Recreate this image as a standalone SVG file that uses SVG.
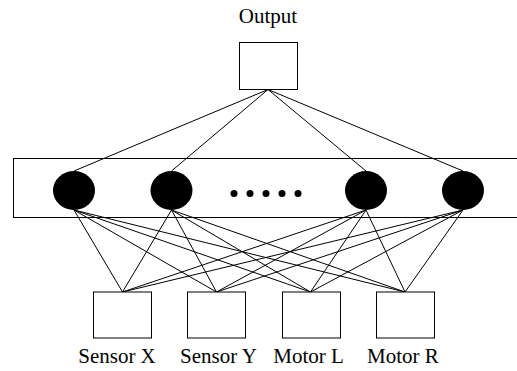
<svg xmlns="http://www.w3.org/2000/svg" width="517" height="371" viewBox="0 0 517 371">
<style>
.box{fill:#fff;stroke:#000;stroke-width:1}
.n{fill:#000}
.lbl{font-family:"Liberation Serif","Times New Roman",serif;font-size:21px;fill:#000;text-anchor:middle}
.c line{stroke:#000;stroke-width:1}
</style>
<g id="layer">
<rect class="box" x="13.5" y="158.5" width="504" height="59"/>
</g>
<g class="c" id="connectors">
<line x1="268" y1="89.5" x2="74" y2="171"/>
<line x1="268" y1="89.5" x2="171.5" y2="171"/>
<line x1="268" y1="89.5" x2="366" y2="171"/>
<line x1="268" y1="89.5" x2="463" y2="171"/>
<line x1="74" y1="210" x2="122.5" y2="292"/>
<line x1="74" y1="210" x2="216.5" y2="292"/>
<line x1="74" y1="210" x2="310.5" y2="292"/>
<line x1="74" y1="210" x2="405" y2="292"/>
<line x1="171.5" y1="210" x2="122.5" y2="292"/>
<line x1="171.5" y1="210" x2="216.5" y2="292"/>
<line x1="171.5" y1="210" x2="310.5" y2="292"/>
<line x1="171.5" y1="210" x2="405" y2="292"/>
<line x1="366" y1="210" x2="122.5" y2="292"/>
<line x1="366" y1="210" x2="216.5" y2="292"/>
<line x1="366" y1="210" x2="310.5" y2="292"/>
<line x1="366" y1="210" x2="405" y2="292"/>
<line x1="463" y1="210" x2="122.5" y2="292"/>
<line x1="463" y1="210" x2="216.5" y2="292"/>
<line x1="463" y1="210" x2="310.5" y2="292"/>
<line x1="463" y1="210" x2="405" y2="292"/>
</g>
<g id="output">
<rect class="box" x="239.5" y="42.5" width="58" height="47"/>
<text class="lbl" x="268" y="23">Output</text>
</g>
<g id="h1"><ellipse class="n" cx="74" cy="190.5" rx="21" ry="19.5"/></g>
<g id="h2"><ellipse class="n" cx="171.5" cy="190.5" rx="21" ry="19.5"/></g>
<g id="dots">
<circle class="n" cx="234" cy="193.5" r="3.5"/>
<circle class="n" cx="250" cy="193.5" r="3.5"/>
<circle class="n" cx="266" cy="193.5" r="3.5"/>
<circle class="n" cx="282" cy="193.5" r="3.5"/>
<circle class="n" cx="298" cy="193.5" r="3.5"/>
</g>
<g id="h3"><ellipse class="n" cx="366" cy="190.5" rx="21" ry="19.5"/></g>
<g id="h4"><ellipse class="n" cx="463" cy="190.5" rx="21" ry="19.5"/></g>
<g id="sensorX">
<rect class="box" x="93.5" y="292" width="58" height="46"/>
<text class="lbl" x="117" y="363">Sensor X</text>
</g>
<g id="sensorY">
<rect class="box" x="187.5" y="292" width="58" height="46"/>
<text class="lbl" x="218.5" y="363">Sensor Y</text>
</g>
<g id="motorL">
<rect class="box" x="282.5" y="292" width="58" height="46"/>
<text class="lbl" x="308.5" y="363">Motor L</text>
</g>
<g id="motorR">
<rect class="box" x="376.5" y="292" width="58" height="46"/>
<text class="lbl" x="403" y="363">Motor R</text>
</g>
</svg>
